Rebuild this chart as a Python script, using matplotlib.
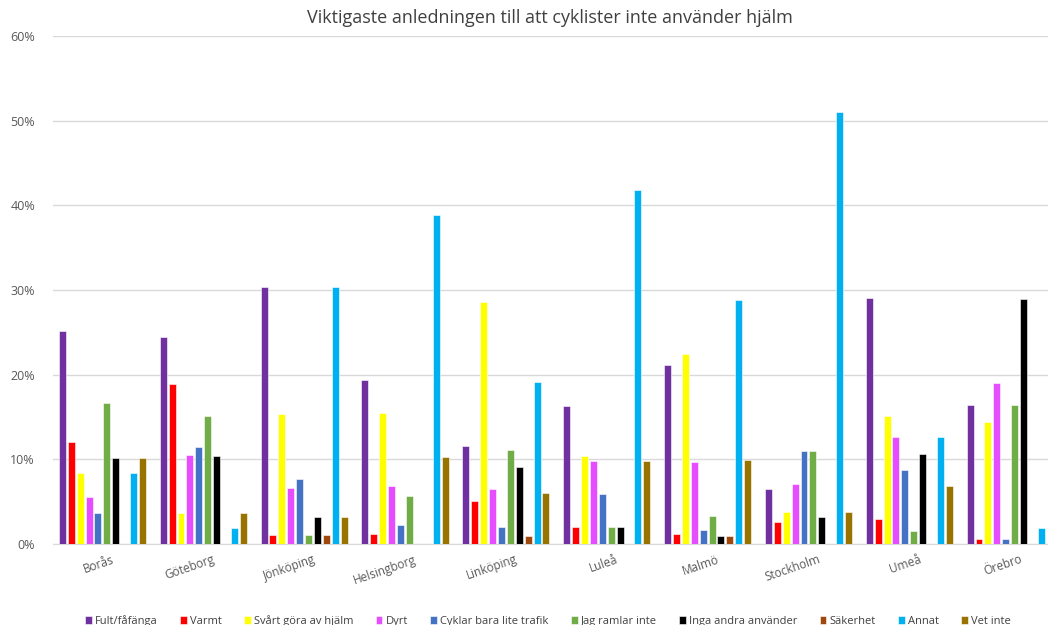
import numpy as np
import matplotlib
matplotlib.use("Agg")
import matplotlib.pyplot as plt
from matplotlib.ticker import FuncFormatter
import matplotlib.transforms as mtransforms

cities = ["Borås", "Göteborg", "Jönköping", "Helsingborg", "Linköping",
          "Luleå", "Malmö", "Stockholm", "Umeå", "Örebro"]

series = ["Fult/fåfänga", "Varmt", "Svårt göra av hjälm", "Dyrt",
          "Cyklar bara lite trafik", "Jag ramlar inte", "Inga andra använder",
          "Säkerhet", "Annat", "Vet inte"]

colors = ["#7030A0", "#FF0000", "#FFFF00", "#E64DFF", "#4472C4",
          "#70AD47", "#000000", "#9E480E", "#00B0F0", "#997300"]

# percent, one list per series (city order as above)
fult     = [25.1, 24.5, 30.4, 19.4, 11.6, 16.3, 21.2,  6.5, 29.1, 16.4]
varmt    = [12.1, 18.9,  1.1,  1.2,  5.1,  2.0,  1.2,  2.6,  2.9,  0.6]
svart    = [ 8.4,  3.7, 15.3, 15.5, 28.6, 10.4, 22.4,  3.8, 15.1, 14.4]
dyrt     = [ 5.6, 10.5,  6.6,  6.9,  6.5,  9.8,  9.7,  7.1, 12.6, 19.0]
cyklar   = [ 3.7, 11.4,  7.7,  2.3,  2.0,  5.9,  1.7, 11.0,  8.7,  0.6]
ramlar   = [16.7, 15.1,  1.1,  5.7, 11.1,  2.0,  3.3, 11.0,  1.5, 16.4]
inga     = [10.2, 10.4,  3.2,  0.0,  9.1,  2.0,  0.9,  3.2, 10.6, 28.9]
sakerhet = [ 0.0,  0.0,  1.1,  0.0,  1.0,  0.0,  0.9,  0.0,  0.0,  0.0]
annat    = [ 8.4,  1.9, 30.4, 38.8, 19.1, 41.8, 28.8, 51.0, 12.6,  1.9]
vetinte  = [10.2,  3.7,  3.2, 10.3,  6.0,  9.8,  9.9,  3.8,  6.8,  0.0]

values = [fult, varmt, svart, dyrt, cyklar, ramlar, inga, sakerhet, annat, vetinte]

plt.rcParams['font.family'] = ['Open Sans', 'DejaVu Sans']

fig = plt.figure(figsize=(10.48, 6.25), dpi=100)
ax = fig.add_axes([53/1048, 1-544/625, 1-53/1048, (544-36)/625])

x = np.arange(len(cities))
step = 0.0883
width = 0.069
for k, (name, vals, c) in enumerate(zip(series, values, colors)):
    ax.bar(x + (k - 4.5)*step, np.array(vals)/100, width, color=c, label=name,
           edgecolor="white", linewidth=0.4, zorder=3)

ax.set_ylim(0, 0.6)
ax.set_xlim(-0.49, 9.375)
ax.set_yticks(np.arange(0, 0.61, 0.1))
ax.yaxis.set_major_formatter(FuncFormatter(lambda v, p: f"{v*100:.0f}%"))
ax.grid(axis="y", color="#D9D9D9", linewidth=1, zorder=0)
for s in ["top", "right", "left"]:
    ax.spines[s].set_visible(False)
ax.spines["bottom"].set_color("#D9D9D9")
ax.tick_params(axis="y", length=0, labelsize=9, labelcolor="#595959", pad=13)
ax.tick_params(axis="x", length=0, labelsize=8.5, labelcolor="#595959")

ax.set_xticks(x)
ax.set_xticklabels(cities, rotation=19, ha="right", va="top", rotation_mode="anchor")
offset = mtransforms.ScaledTranslation(9/100, -4/100, fig.dpi_scale_trans)
for lab in ax.get_xticklabels():
    lab.set_transform(lab.get_transform() + offset)

fig.text(0.525, 1-18/625, "Viktigaste anledningen till att cyklister inte använder hjälm",
         ha="center", va="center", fontsize=13, color="#404040")

leg = fig.legend(loc="center", bbox_to_anchor=(0.523, 1-621/625), ncol=10, frameon=False,
                 fontsize=8, handlelength=0.6, handleheight=0.6, handletextpad=0.3,
                 columnspacing=2.0)
for t in leg.get_texts():
    t.set_color("#404040")

fig.savefig("out.png", dpi=100)
